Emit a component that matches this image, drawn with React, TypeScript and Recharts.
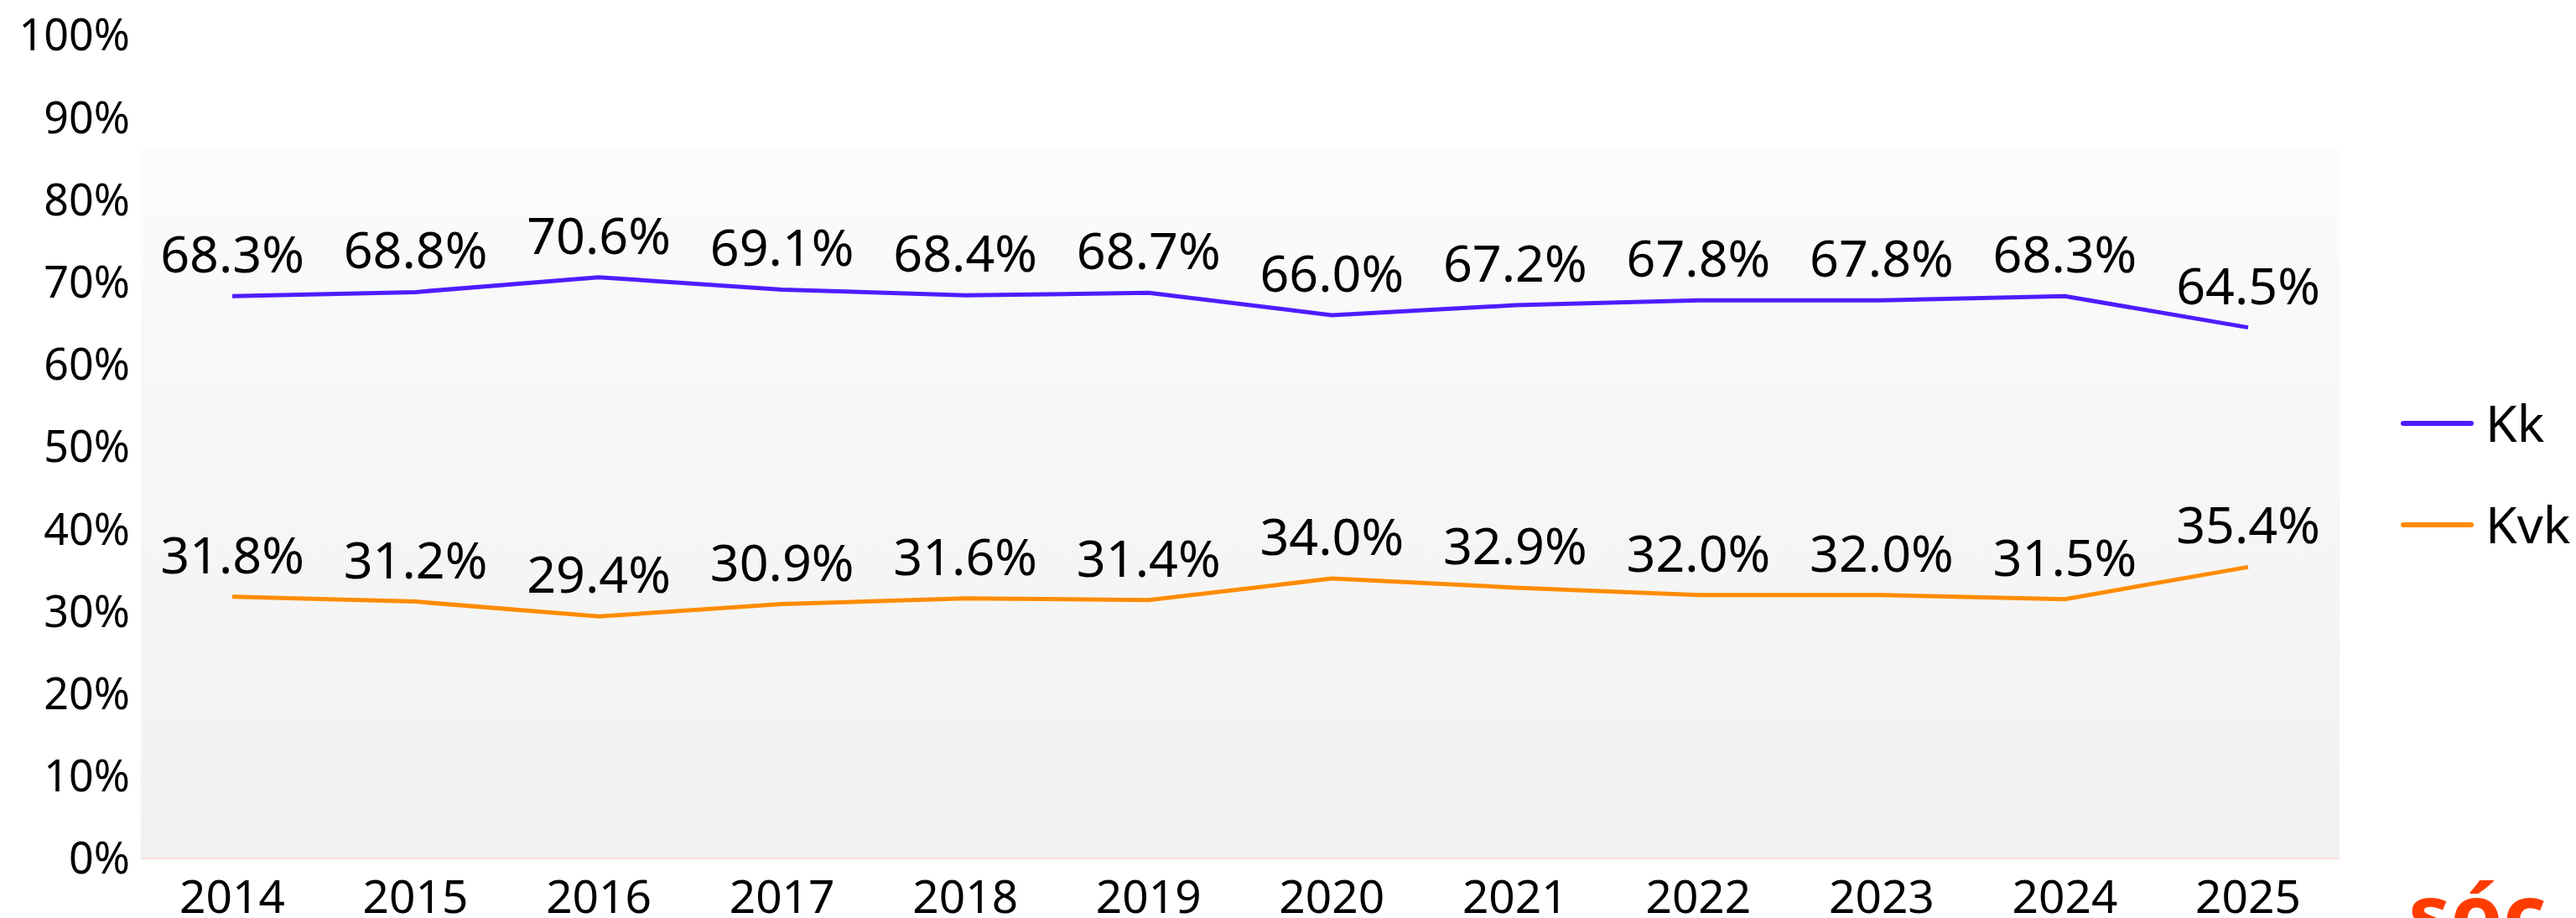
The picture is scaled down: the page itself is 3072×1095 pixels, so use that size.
import { LineChart, Line, XAxis, YAxis, CartesianGrid, LabelList } from 'recharts';

const years = ['2014', '2015', '2016', '2017', '2018', '2019', '2020', '2021', '2022', '2023', '2024', '2025'];
const kk = [68.3, 68.8, 70.6, 69.1, 68.4, 68.7, 66.0, 67.2, 67.8, 67.8, 68.3, 64.5];
const kvk = [31.8, 31.2, 29.4, 30.9, 31.6, 31.4, 34.0, 32.9, 32.0, 32.0, 31.5, 35.4];
const yTicks = [0, 10, 20, 30, 40, 50, 60, 70, 80, 90, 100];

const series = [
  { key: 'Kk', values: kk, color: '#4f1cff' },
  { key: 'Kvk', values: kvk, color: '#ff8c00' },
];

const data = years.map((year, i) => ({ year, Kk: kk[i], Kvk: kvk[i] }));

const FONT = '"Noto Sans", "Open Sans", sans-serif';
const pct = (v: any) => `${Number(v).toFixed(1)}%`;

// legend + logo drawn on top of the chart, outside recharts layout
function Overlay() {
  return (
    <svg width={3072} height={1095} style={{ position: 'absolute', left: 0, top: 0, pointerEvents: 'none' }}>
      {series.map((s, i) => {
        const cy = 505 + i * 121;
        return (
          <g key={s.key}>
            <line x1={2866} x2={2947} y1={cy} y2={cy} stroke={s.color} strokeWidth={6} strokeLinecap="round" />
            <text x={2964} y={cy + 22} fontSize={61} fontFamily={FONT} fill="#000">
              {s.key}
            </text>
          </g>
        );
      })}
      <text x={2872} y={1127} fontSize={100} fontWeight={700} fontFamily={FONT} fill="#ff3c00">
        sóc
      </text>
    </svg>
  );
}

export default function App() {
  return (
    <div style={{ position: 'absolute', left: 0, top: 0, width: 3072, height: 1095, overflow: 'hidden', background: '#fff' }}>
      <LineChart
        width={3072}
        height={1095}
        data={data}
        margin={{ top: 42, right: 282, bottom: 0, left: 0 }}
        style={{ fontFamily: FONT }}
      >
        <defs>
          {/* background only starts ~86% up the plot */}
          <linearGradient id="plotBg" x1="0" y1="0" x2="0" y2="1">
            <stop offset="0%" stopColor="#ffffff" stopOpacity={0} />
            <stop offset="14%" stopColor="#ffffff" stopOpacity={0} />
            <stop offset="14%" stopColor="#fbfbfb" stopOpacity={1} />
            <stop offset="100%" stopColor="#f1f1f1" stopOpacity={1} />
          </linearGradient>
        </defs>
        <CartesianGrid horizontal={false} vertical={false} fill="url(#plotBg)" fillOpacity={1} />
        <XAxis
          dataKey="year"
          height={71}
          padding={{ left: 109, right: 109 }}
          tickLine={false}
          tickSize={0}
          tickMargin={26}
          axisLine={{ stroke: '#fde2da', strokeWidth: 2 }}
          tick={{ fontSize: 55, fill: '#000', fontFamily: FONT }}
          interval={0}
        />
        <YAxis
          width={168}
          domain={[0, 100]}
          ticks={yTicks}
          tickFormatter={(v) => `${v}%`}
          axisLine={false}
          tickLine={false}
          tickSize={0}
          tickMargin={13}
          tick={{ fontSize: 52, fill: '#000', fontFamily: FONT }}
          interval={0}
        />
        {series.map((s) => (
          <Line
            key={s.key}
            type="linear"
            dataKey={s.key}
            stroke={s.color}
            strokeWidth={5}
            dot={false}
            activeDot={false}
            isAnimationActive={false}
          >
            <LabelList
              dataKey={s.key}
              position="top"
              offset={28}
              formatter={pct}
              style={{ fontSize: 61, fill: '#000', fontFamily: FONT }}
            />
          </Line>
        ))}
      </LineChart>
      <Overlay />
    </div>
  );
}
